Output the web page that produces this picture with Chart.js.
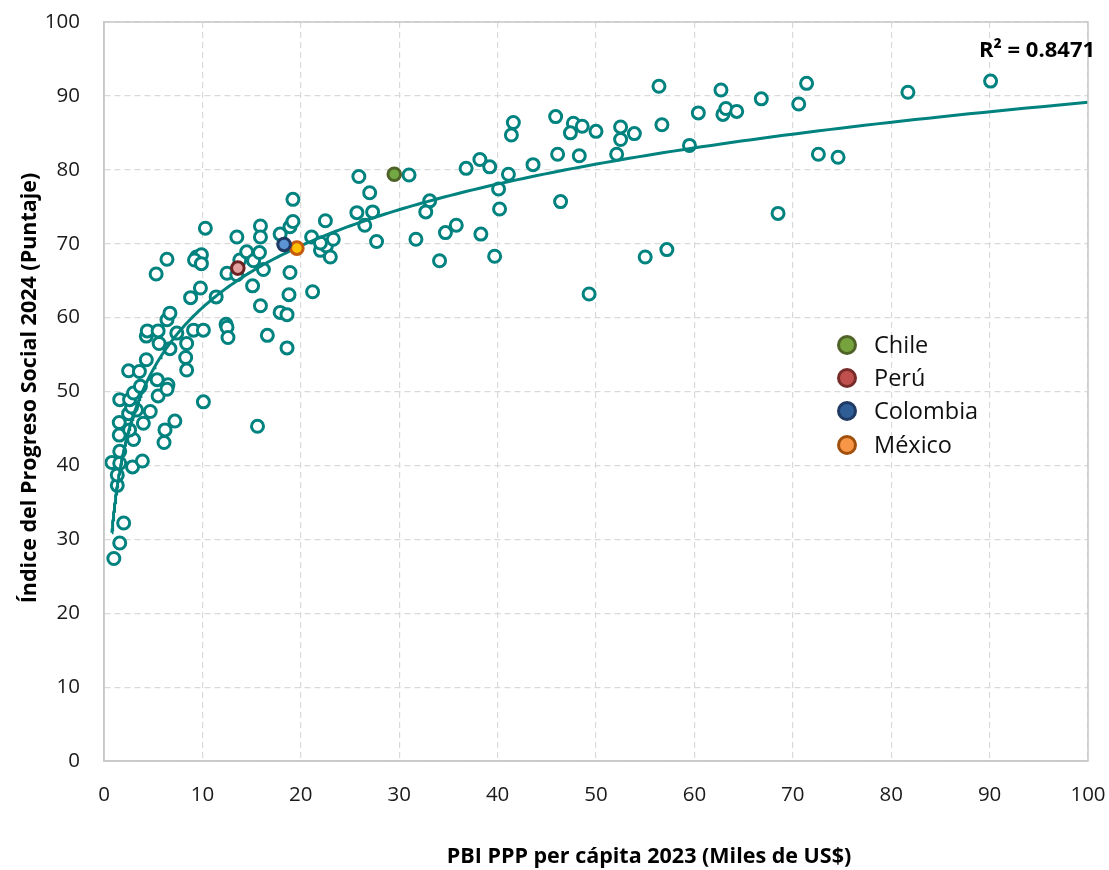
<!DOCTYPE html>
<html>
<head>
<meta charset="utf-8">
<script src="https://cdn.jsdelivr.net/npm/chart.js@4.4.1/dist/chart.umd.min.js"></script>
<style>
html,body{margin:0;padding:0;background:#fff;}
#wrap{width:1109px;height:870px;position:relative;}
</style>
</head>
<body>
<div id="wrap"><canvas id="c" width="1109" height="870"></canvas></div>
<script>
// ---- DATA ----
// PBI PPP per cápita 2023 (miles de US$) for the other countries
const gdpOthers = [
  1.0,1.6,2.0,1.35,1.35,0.8,1.6,2.9,3.9,1.6,1.55,3.0,2.6,1.55,4.0,2.5,3.3,2.8,4.7,1.6,
  2.6,3.0,3.7,2.5,3.6,4.3,5.4,5.5,6.5,6.4,6.1,6.2,7.2,10.1,5.6,6.7,8.4,8.3,8.4,4.3,
  4.4,5.5,6.4,6.7,7.4,9.1,10.1,15.6,
  5.3,6.4,8.8,9.8,11.4,9.4,9.9,9.2,9.9,10.3,12.5,13.5,13.8,14.5,13.5,15.2,15.8,15.9,15.9,16.2,
  15.1,15.9,17.9,18.6,12.4,12.5,12.6,16.6,18.6,18.8,21.2,18.9,17.9,18.9,19.2,19.2,21.1,22.5,22.0,22.6,
  23.3,23.0,22.0,
  25.9,27.0,25.7,27.3,26.5,27.7,31.0,31.7,33.1,32.7,35.8,34.7,34.1,36.8,38.2,39.2,38.3,39.7,40.1,40.2,
  41.1,41.6,41.4,43.6,45.9,46.1,46.4,47.7,47.4,48.6,48.3,49.3,50.0,52.5,52.5,53.9,52.1,56.4,56.7,55.0,
  57.2,59.5,60.4,62.7,62.9,63.2,64.3,66.8,68.5,70.6,71.4,72.6,74.6,81.7,90.1
];
// Índice del Progreso Social 2024 (puntaje) for the same countries
const spiOthers = [
  27.4,29.5,32.2,37.3,38.7,40.4,40.3,39.8,40.6,41.9,44.1,43.5,44.8,45.8,45.7,47.0,47.5,47.9,47.3,48.9,
  48.9,49.8,50.7,52.8,52.7,54.3,51.6,49.4,50.9,50.3,43.1,44.8,46.0,48.6,56.5,55.8,56.5,54.6,52.9,57.5,
  58.2,58.2,59.7,60.6,57.9,58.3,58.3,45.3,
  65.9,67.9,62.7,64.0,62.8,68.2,68.5,67.8,67.3,72.1,66.0,65.8,67.8,68.9,70.9,67.7,68.8,72.4,70.9,66.5,
  64.3,61.6,60.7,60.4,59.1,58.7,57.3,57.6,55.9,63.1,63.5,66.1,71.3,72.3,73.0,76.0,70.9,73.1,69.1,69.7,
  70.6,68.2,70.1,
  79.1,76.9,74.2,74.3,72.5,70.3,79.3,70.6,75.8,74.3,72.5,71.5,67.7,80.2,81.4,80.4,71.3,68.3,77.4,74.7,
  79.4,86.4,84.7,80.7,87.2,82.1,75.7,86.3,85.0,85.9,81.9,63.2,85.2,85.8,84.1,84.9,82.1,91.3,86.1,68.2,
  69.2,83.3,87.7,90.8,87.5,88.3,87.9,89.6,74.1,88.9,91.7,82.1,81.7,90.5,92.0
];
// Highlighted countries
const highlightNames = ['Chile', 'Perú', 'Colombia', 'México'];
const highlightGdp = [29.5, 13.6, 18.3, 19.6];
const highlightSpi = [79.4, 66.7, 69.9, 69.4];
// Axis ticks and labels
const xMin = 0, xMax = 100, xStep = 10;
const yMin = 0, yMax = 100, yStep = 10;
const xTitle = 'PBI PPP per cápita 2023 (Miles de US$)';
const yTitle = 'Índice del Progreso Social 2024 (Puntaje)';
const r2Text = 'R² = 0.8471';

// ---- STYLE ----
const teal = '#00827F';
const markerFill = ['#72A943', '#E3A09E', '#5B93D3', '#FFC000'];
const markerBorder = ['#4F6228', '#6B2222', '#1F3864', '#C55A11'];
const legendFill = ['#77A33F', '#C0504D', '#2F5D96', '#F79646'];
const legendBorder = ['#4F6228', '#772C2A', '#1F3A63', '#A0500D'];
const FONT = '"Open Sans", "Noto Sans", "DejaVu Sans", sans-serif';

// ---- Logarithmic trendline fitted from all points (least squares) ----
const allX = gdpOthers.concat(highlightGdp);
const allY = spiOthers.concat(highlightSpi);
let n = allX.length, sL = 0, sY = 0, sLL = 0, sLY = 0;
for (let i = 0; i < n; i++) {
  const L = Math.log(allX[i]);
  sL += L; sY += allY[i]; sLL += L * L; sLY += L * allY[i];
}
const slope = (n * sLY - sL * sY) / (n * sLL - sL * sL);
const inter = (sY - slope * sL) / n;
const tStart = Math.min(...allX);
const trend = [];
for (let k = 0; k <= 300; k++) {
  const xv = tStart * Math.pow(xMax / tStart, k / 300);
  trend.push({x: xv, y: inter + slope * Math.log(xv)});
}

const others = gdpOthers.map((v, i) => ({x: v, y: spiOthers[i]}));
const hlSets = highlightNames.map((nm, i) => ({
  label: nm,
  data: [{x: highlightGdp[i], y: highlightSpi[i]}],
  pointRadius: 6.3,
  pointBorderWidth: 3,
  pointBackgroundColor: markerFill[i],
  pointBorderColor: markerBorder[i],
  order: 0
}));

const decor = {
  id: 'decor',
  afterDraw(chart) {
    const ctx = chart.ctx, a = chart.chartArea;
    ctx.save();
    // plot area frame
    ctx.strokeStyle = '#C8C8C8';
    ctx.lineWidth = 1.5;
    ctx.setLineDash([]);
    ctx.strokeRect(a.left, a.top, a.right - a.left, a.bottom - a.top);
    // R² label
    ctx.fillStyle = '#000';
    ctx.font = 'bold 22px ' + FONT;
    ctx.textAlign = 'left';
    ctx.textBaseline = 'middle';
    ctx.fillText(r2Text, 979, 51);
    // legend
    ctx.font = '23.5px ' + FONT;
    const ly = [345, 378, 411, 445];
    highlightNames.forEach((nm, i) => {
      ctx.beginPath();
      ctx.arc(847, ly[i], 8.5, 0, Math.PI * 2);
      ctx.fillStyle = legendFill[i];
      ctx.fill();
      ctx.lineWidth = 3;
      ctx.strokeStyle = legendBorder[i];
      ctx.stroke();
      ctx.fillStyle = '#111';
      ctx.fillText(nm, 874, ly[i] + 1);
    });
    // axis titles
    ctx.fillStyle = '#000';
    ctx.font = 'bold 21.5px ' + FONT;
    ctx.textAlign = 'center';
    ctx.fillText(xTitle, 649, 857);
    ctx.translate(30, 388);
    ctx.rotate(-Math.PI / 2);
    ctx.fillText(yTitle, 0, 0);
    ctx.restore();
  }
};

new Chart(document.getElementById('c'), {
  type: 'scatter',
  data: {
    datasets: [
      {
        label: 'Tendencia',
        type: 'line',
        data: trend,
        borderColor: teal,
        borderWidth: 3,
        pointRadius: 0,
        fill: false,
        tension: 0,
        order: 1
      },
      {
        label: 'Países',
        data: others,
        pointRadius: 6,
        pointBorderWidth: 3,
        pointBackgroundColor: '#ffffff',
        pointBorderColor: teal,
        order: 2
      },
      ...hlSets
    ]
  },
  options: {
    responsive: false,
    animation: false,
    layout: {padding: {left: 0, right: 21, top: 22, bottom: 0}},
    plugins: {legend: {display: false}, tooltip: {enabled: false}},
    scales: {
      x: {
        type: 'linear',
        min: xMin, max: xMax,
        ticks: {stepSize: xStep, padding: 22, color: '#1a1a1a', font: {family: FONT, size: 20.5}},
        grid: {color: '#D9D9D9', lineWidth: 1.2, drawTicks: false},
        border: {display: true, color: '#C8C8C8', width: 1.5, dash: [6, 4]},
        afterFit(s) { s.height = 109; s.paddingLeft = 0; s.paddingRight = 0; }
      },
      y: {
        type: 'linear',
        min: yMin, max: yMax,
        ticks: {stepSize: yStep, padding: 24, color: '#1a1a1a', font: {family: FONT, size: 20.5}},
        grid: {color: '#D9D9D9', lineWidth: 1.2, drawTicks: false},
        border: {display: true, color: '#C8C8C8', width: 1.5, dash: [6, 4]},
        afterFit(s) { s.width = 104; s.paddingTop = 0; s.paddingBottom = 0; }
      }
    }
  },
  plugins: [decor]
});
</script>
</body>
</html>
